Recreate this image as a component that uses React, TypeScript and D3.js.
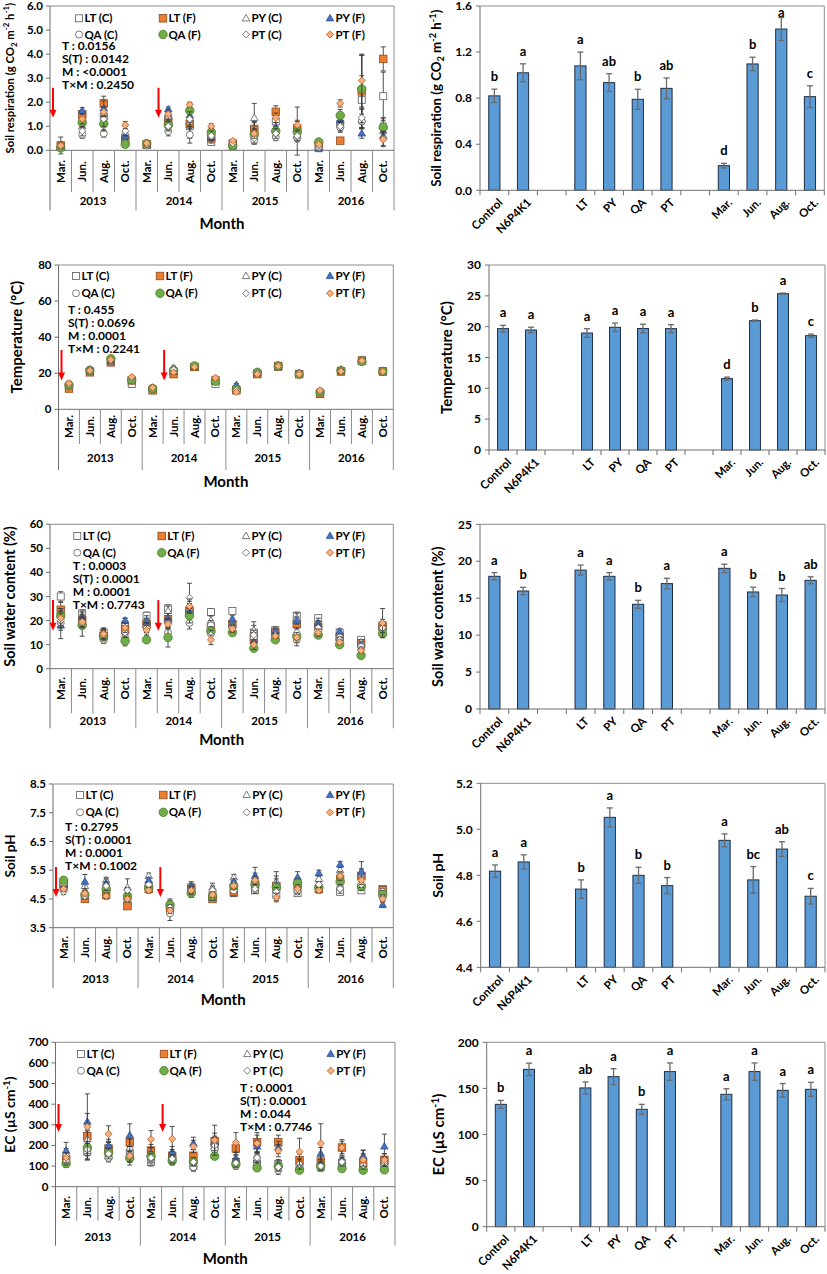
import React from 'react';
import * as d3 from 'd3';

// ---------------- categories ----------------
const monthNames = ['Mar.', 'Jun.', 'Aug.', 'Oct.'];
const years = ['2013', '2014', '2015', '2016'];
const seriesNames = ['LT (C)', 'LT (F)', 'PY (C)', 'PY (F)', 'QA (C)', 'QA (F)', 'PT (C)', 'PT (F)'];
const barSlots = ['Control', 'N6P4K1', '_g1', 'LT', 'PY', 'QA', 'PT', '_g2', 'Mar.', 'Jun.', 'Aug.', 'Oct.'];
const barCats = ['Control', 'N6P4K1', 'LT', 'PY', 'QA', 'PT', 'Mar.', 'Jun.', 'Aug.', 'Oct.'];

// ---------------- soil respiration (monthly, 16 months) ----------------
const srLTC = [0.15, 1.4, 1.4, 0.4, 0.22, 1.3, 1.0, 0.35, 0.25, 0.9, 1.2, 0.8, 0.15, 1.1, 2.1, 2.25];
const srLTCe = [0.1, 0.2, 0.3, 0.1, 0.05, 0.2, 0.3, 0.1, 0.05, 0.3, 0.3, 1.0, 0.05, 0.2, 1.0, 1.0];
const srLTF = [0.2, 1.5, 1.95, 0.45, 0.25, 1.2, 1.1, 0.5, 0.28, 0.85, 1.6, 0.9, 0.2, 0.4, 2.45, 3.8];
const srLTFe = [0.15, 0.15, 0.3, 0.15, 0.05, 0.2, 0.6, 0.2, 0.05, 0.3, 0.25, 0.3, 0.05, 0.05, 1.5, 0.5];
const srPYC = [0.2, 1.0, 1.5, 0.75, 0.22, 1.4, 1.2, 0.6, 0.22, 1.35, 0.8, 0.6, 0.12, 1.2, 1.3, 0.8];
const srPYCe = [0.35, 0.2, 0.3, 0.3, 0.05, 0.2, 0.3, 0.2, 0.05, 0.6, 0.2, 0.2, 0.05, 0.2, 0.4, 0.3];
const srPYF = [0.15, 1.65, 1.75, 0.6, 0.2, 1.7, 1.45, 0.55, 0.15, 0.6, 0.95, 0.65, 0.05, 1.25, 0.7, 0.6];
const srPYFe = [0.05, 0.12, 0.3, 0.15, 0.05, 0.1, 0.3, 0.1, 0.05, 0.2, 0.2, 0.2, 0.03, 0.2, 0.2, 0.2];
const srQAC = [0.12, 0.65, 0.7, 0.3, 0.2, 0.8, 0.65, 0.6, 0.18, 0.4, 0.55, 0.5, 0.15, 0.95, 1.2, 1.05];
const srQACe = [0.05, 0.15, 0.15, 0.1, 0.05, 0.2, 0.35, 0.15, 0.05, 0.15, 0.15, 0.15, 0.05, 0.2, 0.3, 0.3];
const srQAF = [0.1, 1.15, 1.1, 0.25, 0.28, 1.05, 1.65, 0.75, 0.2, 0.65, 0.8, 0.78, 0.35, 1.45, 2.55, 0.95];
const srQAFe = [0.05, 0.2, 0.3, 0.05, 0.05, 0.2, 0.3, 0.2, 0.05, 0.2, 0.2, 0.3, 0.05, 0.25, 1.4, 0.4];
const srPTC = [0.15, 0.8, 1.3, 0.8, 0.25, 1.0, 1.3, 0.6, 0.3, 0.5, 0.7, 0.6, 0.2, 1.0, 1.35, 0.5];
const srPTCe = [0.1, 0.2, 0.3, 0.2, 0.05, 0.2, 0.3, 0.2, 0.05, 0.2, 0.2, 0.2, 0.05, 0.2, 0.4, 0.3];
const srPTF = [0.2, 1.3, 1.6, 1.05, 0.3, 1.5, 1.9, 1.0, 0.4, 0.7, 1.35, 1.05, 0.25, 1.95, 2.9, 0.45];
const srPTFe = [0.1, 0.2, 0.2, 0.15, 0.05, 0.2, 0.1, 0.1, 0.05, 0.2, 0.2, 0.2, 0.05, 0.15, 1.1, 0.3];
const srStats = ['T : 0.0156', 'S(T) : 0.0142', 'M : <0.0001', 'T×M : 0.2450'];

// ---------------- temperature ----------------
const tpLTC = [12.5, 21, 27, 14, 11, 21, 23.5, 14, 11, 20, 23.5, 19.5, 9, 21, 27, 21];
const tpLTF = [11.5, 20.5, 26, 16, 10.5, 19.5, 23.5, 16, 10.5, 19.5, 24, 19.5, 8.5, 21, 27, 21];
const tpPYC = [13, 22, 27.5, 16.5, 11.5, 23, 24, 16.5, 12, 20.5, 24.5, 20, 10, 22, 27.5, 21];
const tpPYF = [13.5, 21, 26.5, 17, 12, 21, 23.5, 16, 13.5, 20, 23.5, 19.5, 9.5, 21.5, 26.5, 21];
const tpQAC = [13, 22, 27.5, 16, 11.5, 22, 24, 16, 11, 20, 24, 19.5, 9.5, 21.5, 27, 21];
const tpQAF = [13.5, 21.5, 28, 16.5, 11.5, 21.5, 24, 15.5, 11, 20.5, 24, 19.5, 9.5, 21.5, 26.5, 21];
const tpPTC = [14, 22, 27, 17.5, 12, 22, 23.5, 17, 10.5, 20, 24, 20, 10, 21.5, 27, 21];
const tpPTF = [14.5, 21.5, 27.5, 18, 12, 20.5, 23.5, 17.5, 9.5, 19.5, 24, 19.5, 10.5, 21, 27, 21];
const tpErr = [0.8, 0.8, 0.8, 0.8, 0.6, 1, 0.6, 0.8, 0.8, 0.6, 0.6, 0.6, 0.6, 0.8, 0.6, 0.6];
const tpStats = ['T : 0.455', 'S(T) : 0.0696', 'M : 0.0001', 'T×M : 0.2241'];

// ---------------- soil water content ----------------
const swLTC = [30, 23, 15, 18, 22, 25, 23, 23.5, 24, 15, 16, 22, 21, 15, 12, 18];
const swLTCe = [2, 1.5, 1.5, 2, 1.5, 1.5, 2, 1.5, 1, 4.5, 1.5, 1.5, 1, 1, 1, 1.5];
const swLTF = [24.5, 20, 13.5, 16, 18.5, 20.5, 24, 17, 18.5, 12.5, 15, 18.5, 17.5, 13, 10.5, 17.5];
const swLTFe = [3, 2, 1.5, 2, 2, 3, 3, 2, 2, 2, 1.5, 2, 2, 1.5, 1.5, 2];
const swPYC = [22, 22, 15, 19, 20, 24, 25, 20, 19, 16, 16, 21, 19, 14, 11, 18.5];
const swPYCe = [3, 2, 2, 2, 2, 2, 3, 2, 2, 2, 1, 2, 2, 1, 1, 2];
const swPYF = [18, 21.5, 14, 20, 19.5, 21, 24, 17, 20.5, 11.5, 15.5, 20, 18.5, 15.5, 10, 17];
const swPYFe = [5.5, 2, 2, 1, 1.5, 2, 3, 2, 1.5, 2, 1, 1.5, 1.5, 1, 1, 2];
const swQAC = [19, 19, 12, 13, 17, 15, 19, 18, 17, 13, 13, 12, 16, 12, 9, 16];
const swQACe = [3, 2, 1.5, 2, 2, 2, 2.5, 2, 1.5, 2, 1, 2.5, 1.5, 1, 1, 2];
const swQAF = [22, 18, 13.5, 11.5, 12, 13, 22, 15.5, 15, 8.5, 12, 13.5, 14, 10, 5.5, 14.5];
const swQAFe = [3, 4.5, 2, 2, 1, 4, 3, 2, 1, 1, 1, 1.5, 1, 1, 1, 1.5];
const swPTC = [20, 19, 14, 15, 17, 19, 29.5, 14, 17, 14, 14, 15, 17, 12, 8, 17];
const swPTCe = [3, 2, 2, 2, 2, 2, 6, 2, 1.5, 2, 1, 2, 1.5, 1, 1, 2];
const swPTF = [21, 19.5, 14.5, 17, 16, 18.5, 26, 12, 16.5, 10, 13.5, 13, 15, 11, 7.5, 19];
const swPTFe = [3, 2, 2, 2, 2, 2, 3, 2, 1.5, 2, 1, 2, 1.5, 1, 1, 6];
const swStats = ['T : 0.0003', 'S(T) : 0.0001', 'M : 0.0001', 'T×M : 0.7743'];

// ---------------- soil pH ----------------
const phLTC = [4.9, 4.6, 4.75, 4.4, 4.95, 4.1, 4.9, 4.6, 4.7, 4.8, 4.65, 4.7, 4.85, 4.75, 4.8, 4.85];
const phLTCe = [0.1, 0.1, 0.1, 0.15, 0.1, 0.15, 0.1, 0.1, 0.1, 0.1, 0.15, 0.1, 0.1, 0.1, 0.1, 0.1];
const phLTF = [5.0, 4.5, 4.65, 4.25, 4.85, 4.2, 4.85, 4.5, 4.75, 5.0, 4.95, 5.0, 4.85, 5.2, 5.3, 4.8];
const phLTFe = [0.15, 0.1, 0.15, 0.1, 0.1, 0.1, 0.15, 0.1, 0.15, 0.2, 0.5, 0.15, 0.1, 0.2, 0.2, 0.1];
const phPYC = [5.0, 4.95, 5.15, 4.9, 5.3, 4.3, 4.95, 4.9, 5.25, 5.2, 5.1, 5.1, 5.2, 5.5, 5.35, 4.7];
const phPYCe = [0.1, 0.15, 0.1, 0.3, 0.1, 0.15, 0.15, 0.15, 0.1, 0.2, 0.2, 0.15, 0.1, 0.15, 0.2, 0.1];
const phPYF = [5.0, 5.1, 5.05, 4.6, 5.15, 4.3, 4.9, 4.55, 5.1, 5.3, 5.0, 5.25, 5.4, 5.7, 5.45, 4.3];
const phPYFe = [0.1, 0.25, 0.15, 0.15, 0.1, 0.2, 0.15, 0.1, 0.1, 0.3, 0.2, 0.2, 0.1, 0.1, 0.35, 0.1];
const phQAC = [5.05, 4.6, 4.8, 4.5, 4.85, 4.0, 4.8, 4.75, 4.8, 4.9, 4.8, 4.85, 4.95, 4.9, 4.9, 4.75];
const phQACe = [0.1, 0.1, 0.1, 0.1, 0.1, 0.25, 0.1, 0.1, 0.1, 0.15, 0.1, 0.1, 0.1, 0.1, 0.1, 0.1];
const phQAF = [5.15, 4.65, 4.85, 4.6, 4.9, 4.3, 4.7, 4.6, 4.95, 5.0, 4.9, 5.05, 4.9, 5.1, 4.95, 4.65];
const phQAFe = [0.1, 0.1, 0.15, 0.1, 0.1, 0.1, 0.15, 0.15, 0.1, 0.15, 0.15, 0.15, 0.1, 0.15, 0.15, 0.15];
const phPTC = [4.75, 4.6, 4.95, 4.8, 5.0, 4.2, 4.8, 4.8, 5.0, 4.85, 4.75, 4.75, 5.0, 4.85, 5.0, 4.55];
const phPTCe = [0.1, 0.1, 0.15, 0.1, 0.1, 0.1, 0.1, 0.15, 0.1, 0.15, 0.15, 0.1, 0.1, 0.15, 0.1, 0.1];
const phPTF = [4.85, 4.7, 4.6, 4.5, 4.8, 4.1, 4.8, 4.65, 4.95, 5.15, 4.55, 4.85, 4.8, 5.3, 5.15, 4.5];
const phPTFe = [0.1, 0.1, 0.1, 0.1, 0.1, 0.1, 0.15, 0.1, 0.1, 0.15, 0.15, 0.15, 0.1, 0.15, 0.15, 0.1];
const phStats = ['T : 0.2795', 'S(T) : 0.0001', 'M : 0.0001', 'T×M : 0.1002'];

// ---------------- EC ----------------
const ecLTC = [130, 170, 150, 160, 120, 130, 100, 195, 120, 110, 110, 95, 95, 115, 95, 110];
const ecLTCe = [20, 40, 20, 30, 20, 20, 20, 30, 20, 20, 20, 20, 20, 20, 20, 20];
const ecLTF = [135, 245, 185, 215, 175, 150, 150, 220, 185, 215, 215, 128, 122, 190, 115, 130];
const ecLTFe = [25, 50, 30, 30, 30, 30, 30, 40, 30, 47, 35, 30, 30, 38, 30, 30];
const ecPYC = [160, 230, 190, 190, 150, 140, 110, 210, 125, 130, 110, 95, 110, 125, 150, 120];
const ecPYCe = [25, 40, 30, 40, 20, 25, 20, 30, 25, 25, 20, 20, 20, 20, 25, 25];
const ecPYF = [175, 315, 200, 250, 160, 165, 210, 215, 135, 195, 190, 100, 160, 120, 145, 195];
const ecPYFe = [40, 40, 30, 55, 30, 30, 30, 30, 30, 30, 30, 30, 30, 20, 33, 60];
const ecQAC = [110, 165, 140, 150, 130, 125, 95, 180, 100, 140, 80, 85, 90, 100, 85, 100];
const ecQACe = [15, 30, 20, 20, 20, 20, 20, 20, 15, 20, 20, 15, 15, 15, 15, 15];
const ecQAF = [112, 190, 165, 138, 148, 127, 122, 148, 110, 92, 100, 80, 100, 88, 80, 82];
const ecQAFe = [15, 30, 20, 20, 20, 20, 20, 15, 15, 15, 20, 15, 15, 15, 15, 15];
const ecPTC = [125, 180, 160, 145, 140, 135, 120, 200, 115, 140, 95, 110, 100, 120, 105, 120];
const ecPTCe = [20, 30, 25, 25, 20, 20, 20, 25, 20, 25, 20, 25, 20, 20, 20, 20];
const ecPTF = [140, 290, 255, 150, 230, 232, 195, 225, 215, 210, 175, 170, 210, 190, 130, 130];
const ecPTFe = [25, 160, 40, 45, 42, 60, 30, 73, 47, 40, 30, 65, 95, 30, 30, 30];
const ecStats = ['T : 0.0001', 'S(T) : 0.0001', 'M : 0.044', 'T×M : 0.7746'];

// ---------------- bar charts (means) ----------------
const srBar = [0.82, 1.02, 1.08, 0.935, 0.79, 0.885, 0.214, 1.097, 1.40, 0.813];
const srBarErr = [0.058, 0.078, 0.12, 0.077, 0.087, 0.09, 0.02, 0.058, 0.1, 0.094];
const srBarLetters = ['b', 'a', 'a', 'ab', 'b', 'ab', 'd', 'b', 'a', 'c'];
const tpBar = [19.68, 19.46, 18.97, 19.9, 19.7, 19.68, 11.57, 20.97, 25.35, 18.54];
const tpBarErr = [0.54, 0.45, 0.7, 0.68, 0.7, 0.65, 0.25, 0.1, 0.1, 0.25];
const tpBarLetters = ['a', 'a', 'a', 'a', 'a', 'a', 'd', 'b', 'a', 'c'];
const swBar = [17.96, 15.97, 18.8, 17.96, 14.17, 16.97, 19.04, 15.84, 15.43, 17.42];
const swBarErr = [0.5, 0.5, 0.68, 0.5, 0.54, 0.72, 0.56, 0.65, 0.88, 0.47];
const swBarLetters = ['a', 'b', 'a', 'a', 'b', 'a', 'a', 'b', 'b', 'ab'];
const phBar = [4.818, 4.858, 4.74, 5.052, 4.80, 4.755, 4.952, 4.78, 4.914, 4.709];
const phBarErr = [0.027, 0.031, 0.04, 0.041, 0.035, 0.035, 0.028, 0.058, 0.032, 0.034];
const phBarLetters = ['a', 'a', 'b', 'a', 'b', 'b', 'a', 'bc', 'ab', 'c'];
const ecBar = [132.7, 170.7, 150.5, 162.7, 127.3, 168.2, 143.6, 168.2, 147.9, 149];
const ecBarErr = [4.3, 6.7, 6.5, 8.7, 5.4, 9.4, 6, 9.4, 7.4, 7.6];
const ecBarLetters = ['b', 'a', 'ab', 'a', 'b', 'a', 'a', 'a', 'a', 'a'];

// ---------------- styles ----------------
const FONT = "Lato, 'Open Sans', Arial, sans-serif";
const FRAME = '#8c8c8c';
const AXIS = '#6e6e6e';
const MARKS = [
  { shape: 'square', fill: '#ffffff', stroke: '#5a5a5a', size: 7 },
  { shape: 'square', fill: '#ED7D31', stroke: '#8a4a20', size: 7.5 },
  { shape: 'triangle', fill: '#ffffff', stroke: '#5a5a5a', size: 7.5 },
  { shape: 'triangle', fill: '#4472C4', stroke: '#2f528f', size: 7.5 },
  { shape: 'circle', fill: '#ffffff', stroke: '#5a5a5a', size: 7 },
  { shape: 'circle', fill: '#70AD47', stroke: '#4a7a2c', size: 8.5 },
  { shape: 'diamond', fill: '#ffffff', stroke: '#5a5a5a', size: 6.5 },
  { shape: 'diamond', fill: '#F4B183', stroke: '#c55a11', size: 6.5 },
];

function Marker({ m, x, y }: { m: any; x: number; y: number }) {
  const s = m.size;
  if (m.shape === 'square')
    return <rect x={x - s / 2} y={y - s / 2} width={s} height={s} fill={m.fill} stroke={m.stroke} strokeWidth={0.8} />;
  if (m.shape === 'circle')
    return <circle cx={x} cy={y} r={s / 2} fill={m.fill} stroke={m.stroke} strokeWidth={0.8} />;
  if (m.shape === 'triangle') {
    const h = s * 0.87;
    return (
      <polygon
        points={`${x},${y - h * 0.6} ${x + s / 2},${y + h * 0.4} ${x - s / 2},${y + h * 0.4}`}
        fill={m.fill}
        stroke={m.stroke}
        strokeWidth={0.8}
      />
    );
  }
  const r = s / 2 + 0.3;
  return (
    <polygon
      points={`${x},${y - r} ${x + r},${y} ${x},${y + r} ${x - r},${y}`}
      fill={m.fill}
      stroke={m.stroke}
      strokeWidth={0.8}
    />
  );
}

const srTitle = (fs: number) => (
  <>
    Soil respiration (g CO
    <tspan dy={3} fontSize={fs * 0.7}>2</tspan>
    <tspan dy={-3}> m</tspan>
    <tspan dy={-5} fontSize={fs * 0.7}>-2</tspan>
    <tspan dy={5}> h</tspan>
    <tspan dy={-5} fontSize={fs * 0.7}>-1</tspan>
    <tspan dy={5}>)</tspan>
  </>
);
const ecTitle = (fs: number) => (
  <>
    EC (µS cm
    <tspan dy={-5} fontSize={fs * 0.7}>-1</tspan>
    <tspan dy={5}>)</tspan>
  </>
);

const LEFT = [
  {
    L: 50, R: 394, T: 6, B: 150.3, monthB: 192, yearB: 210.5, monthLabelY: 171.5, yearLabelY: 201, monthTitleY: 223.5,
    titleX: 9.5, titleFs: 11.3, title: srTitle, domain: [0, 6], step: 1, fmt: '.1f',
    legX: [79, 163, 246, 330], legY: [18.3, 34.5], statsX: 62, statsY: 46, stats: srStats, arrow: [2.6, 1.35],
    vals: [srLTC, srLTF, srPYC, srPYF, srQAC, srQAF, srPTC, srPTF],
    errs: [srLTCe, srLTFe, srPYCe, srPYFe, srQACe, srQAFe, srPTCe, srPTFe],
  },
  {
    L: 58.5, R: 393.3, T: 265, B: 409.3, monthB: 444, yearB: 470, monthLabelY: 426.5, yearLabelY: 458, monthTitleY: 481.7,
    titleX: 16.5, titleFs: 15, title: () => 'Temperature (°C)', domain: [0, 80], step: 20, fmt: 'd',
    legX: [76, 160, 246, 330], legY: [276, 293.3], statsX: 68, statsY: 310, stats: tpStats, arrow: [32.9, 15.9],
    vals: [tpLTC, tpLTF, tpPYC, tpPYF, tpQAC, tpQAF, tpPTC, tpPTF],
    errs: [tpErr, tpErr, tpErr, tpErr, tpErr, tpErr, tpErr, tpErr],
  },
  {
    L: 50, R: 393.3, T: 524.3, B: 668.7, monthB: 713.3, yearB: 728.3, monthLabelY: 688.5, yearLabelY: 721, monthTitleY: 740,
    titleX: 10, titleFs: 14.5, title: () => 'Soil water content (%)', domain: [0, 60], step: 10, fmt: 'd',
    legX: [77.3, 161.7, 246, 330], legY: [536, 552.7], statsX: 72.7, statsY: 565.3, stats: swStats, arrow: [28.5, 15.8],
    vals: [swLTC, swLTF, swPYC, swPYF, swQAC, swQAF, swPTC, swPTF],
    errs: [swLTCe, swLTFe, swPYCe, swPYFe, swQACe, swQAFe, swPTCe, swPTFe],
  },
  {
    L: 53, R: 393.3, T: 784, B: 927.7, monthB: 962.3, yearB: 988.3, monthLabelY: 947.5, yearLabelY: 978.5, monthTitleY: 1000,
    titleX: 10, titleFs: 13.5, title: () => 'Soil pH', domain: [3.5, 8.5], step: 1, fmt: '.1f',
    legX: [80, 163.3, 246.7, 330], legY: [795, 812.3], statsX: 65, statsY: 826.7, stats: phStats, arrow: [5.61, 4.57],
    vals: [phLTC, phLTF, phPYC, phPYF, phQAC, phQAF, phPTC, phPTF],
    errs: [phLTCe, phLTFe, phPYCe, phPYFe, phQACe, phQAFe, phPTCe, phPTFe],
  },
  {
    L: 55.5, R: 395, T: 1042.3, B: 1186.7, monthB: 1220.7, yearB: 1245.7, monthLabelY: 1207.5, yearLabelY: 1237, monthTitleY: 1258.3,
    titleX: 10, titleFs: 14, title: ecTitle, domain: [0, 700], step: 100, fmt: 'd',
    legX: [81, 164, 247.3, 330.7], legY: [1054, 1070.7], statsX: 240, statsY: 1087.3, stats: ecStats, arrow: [401, 265],
    vals: [ecLTC, ecLTF, ecPYC, ecPYF, ecQAC, ecQAF, ecPTC, ecPTF],
    errs: [ecLTCe, ecLTFe, ecPYCe, ecPYFe, ecQACe, ecQAFe, ecPTCe, ecPTFe],
  },
];

const RIGHT = [
  { L: 480, R: 824.3, T: 6, B: 190.3, domain: [0, 1.6], step: 0.4, fmt: '.1f', titleX: 436.7, titleFs: 13.3, title: srTitle,
    vals: srBar, errs: srBarErr, letters: srBarLetters },
  { L: 489, R: 825, T: 265, B: 450, domain: [0, 30], step: 5, fmt: 'd', titleX: 446.7, titleFs: 15, title: () => 'Temperature (°C)',
    vals: tpBar, errs: tpBarErr, letters: tpBarLetters },
  { L: 480, R: 825, T: 524.3, B: 709, domain: [0, 25], step: 5, fmt: 'd', titleX: 438, titleFs: 14.5, title: () => 'Soil water content (%)',
    vals: swBar, errs: swBarErr, letters: swBarLetters },
  { L: 480.7, R: 825, T: 783.3, B: 967.3, domain: [4.4, 5.2], step: 0.2, fmt: '.1f', titleX: 438, titleFs: 14, title: () => 'Soil pH',
    vals: phBar, errs: phBarErr, letters: phBarLetters },
  { L: 486.7, R: 825, T: 1042.3, B: 1226.7, domain: [0, 200], step: 50, fmt: 'd', titleX: 438.3, titleFs: 15, title: ecTitle,
    vals: ecBar, errs: ecBarErr, letters: ecBarLetters },
];

function LeftPanel({ p }: { p: any }) {
  const x = d3.scaleBand<number>().domain(d3.range(16)).range([p.L, p.R]);
  const y = d3.scaleLinear().domain(p.domain).range([p.B, p.T]);
  const ticks = d3.range(p.domain[0], p.domain[1] + p.step / 2, p.step);
  const fmt = d3.format(p.fmt);
  const bw = x.bandwidth();
  const arrowXs = [(x(0) as number) + 3, (x(5) as number) + 1];
  return (
    <g fontFamily={FONT} fontWeight="bold">
      <line x1={p.L} y1={p.T} x2={p.R} y2={p.T} stroke={FRAME} />
      <line x1={p.R} y1={p.T} x2={p.R} y2={p.yearB} stroke={FRAME} />
      <line x1={p.L} y1={p.T} x2={p.L} y2={p.yearB} stroke={AXIS} />
      <line x1={p.L} y1={p.B} x2={p.R} y2={p.B} stroke={AXIS} />
      {ticks.map((t: number) => (
        <g key={t}>
          <line x1={p.L - 4} x2={p.L} y1={y(t)} y2={y(t)} stroke={AXIS} />
          <text x={p.L - 7} y={y(t)} dy="0.35em" textAnchor="end" fontSize={11.5}>{fmt(t)}</text>
        </g>
      ))}
      {d3.range(1, 16).map((i: number) => (
        <line key={i} x1={p.L + i * bw} x2={p.L + i * bw} y1={p.B} y2={i % 4 === 0 ? p.yearB : p.monthB} stroke={FRAME} />
      ))}
      {d3.range(16).map((i: number) => (
        <text key={i} transform={`translate(${(x(i) as number) + bw / 2 + 4},${p.monthLabelY}) rotate(-90)`} textAnchor="middle" fontSize={11.5}>
          {monthNames[i % 4]}
        </text>
      ))}
      {years.map((yr, k) => (
        <text key={yr} x={p.L + (k * 4 + 2) * bw} y={p.yearLabelY} dy="0.35em" textAnchor="middle" fontSize={11.5}>{yr}</text>
      ))}
      <text x={(p.L + p.R) / 2} y={p.monthTitleY} dy="0.35em" textAnchor="middle" fontSize={15}>Month</text>
      <text transform={`translate(${p.titleX + p.titleFs * 0.36},${(p.T + p.B) / 2}) rotate(-90)`} textAnchor="middle" fontSize={p.titleFs}>
        {p.title(p.titleFs)}
      </text>
      {seriesNames.map((nm, k) => {
        const lx = p.legX[k % 4];
        const ly = p.legY[Math.floor(k / 4)];
        return (
          <g key={nm}>
            <Marker m={MARKS[k]} x={lx} y={ly} />
            <text x={lx + 5.5} y={ly} dy="0.35em" fontSize={11.5}>{nm}</text>
          </g>
        );
      })}
      {p.stats.map((s: string, k: number) => (
        <text key={k} x={p.statsX} y={p.statsY + k * 13} dy="0.35em" fontSize={12}>{s}</text>
      ))}
      {arrowXs.map((ax, k) => (
        <g key={k}>
          <line x1={ax} x2={ax} y1={y(p.arrow[0])} y2={y(p.arrow[1]) - 7} stroke="#FF0000" strokeWidth={2} />
          <polygon points={`${ax - 3.5},${y(p.arrow[1]) - 8} ${ax + 3.5},${y(p.arrow[1]) - 8} ${ax},${y(p.arrow[1])}`} fill="#FF0000" />
        </g>
      ))}
      {p.vals.map((vals: number[], s: number) => (
        <g key={s}>
          {vals.map((v: number, i: number) => {
            const cx = (x(i) as number) + bw / 2;
            const e = p.errs[s][i];
            return (
              <g key={i}>
                <line x1={cx} x2={cx} y1={y(v - e)} y2={y(v + e)} stroke="#3a3a3a" strokeWidth={0.9} />
                <line x1={cx - 2.5} x2={cx + 2.5} y1={y(v - e)} y2={y(v - e)} stroke="#3a3a3a" strokeWidth={0.9} />
                <line x1={cx - 2.5} x2={cx + 2.5} y1={y(v + e)} y2={y(v + e)} stroke="#3a3a3a" strokeWidth={0.9} />
                <Marker m={MARKS[s]} x={cx} y={y(v)} />
              </g>
            );
          })}
        </g>
      ))}
    </g>
  );
}

function RightPanel({ p }: { p: any }) {
  const x = d3.scaleBand<string>().domain(barSlots).range([p.L, p.R]);
  const y = d3.scaleLinear().domain(p.domain).range([p.B, p.T]);
  const ticks = d3.range(p.domain[0], p.domain[1] + p.step / 2, p.step);
  const fmt = d3.format(p.fmt);
  const step = x.bandwidth();
  const bw = step * 0.39;
  return (
    <g fontFamily={FONT} fontWeight="bold">
      <line x1={p.L} y1={p.T} x2={p.R} y2={p.T} stroke={FRAME} />
      <line x1={p.R} y1={p.T} x2={p.R} y2={p.B} stroke={FRAME} />
      {ticks.map((t: number) => (
        <g key={t}>
          <line x1={p.L - 4} x2={p.L} y1={y(t)} y2={y(t)} stroke={AXIS} />
          <text x={p.L - 8} y={y(t)} dy="0.35em" textAnchor="end" fontSize={12}>{fmt(t)}</text>
        </g>
      ))}
      {d3.range(13).map((i: number) => (
        <line key={i} x1={p.L + i * step} x2={p.L + i * step} y1={p.B} y2={p.B + 5} stroke={AXIS} />
      ))}
      <text transform={`translate(${p.titleX + p.titleFs * 0.36},${(p.T + p.B) / 2}) rotate(-90)`} textAnchor="middle" fontSize={p.titleFs}>
        {p.title(p.titleFs)}
      </text>
      {barCats.map((c, i) => {
        const cx = (x(c) as number) + step / 2;
        const v = p.vals[i];
        const e = p.errs[i];
        const ly = Math.max(y(v + e) - 8, p.T + 10.5);
        return (
          <g key={c}>
            <rect x={cx - bw / 2} y={y(v)} width={bw} height={p.B - y(v)} fill="#5B9BD5" stroke="#1e2d44" strokeWidth={1} />
            <line x1={cx} x2={cx} y1={y(v - e)} y2={y(v + e)} stroke="#6a6a6a" strokeWidth={1.3} />
            <line x1={cx - 3} x2={cx + 3} y1={y(v - e)} y2={y(v - e)} stroke="#6a6a6a" strokeWidth={1.3} />
            <line x1={cx - 3} x2={cx + 3} y1={y(v + e)} y2={y(v + e)} stroke="#6a6a6a" strokeWidth={1.3} />
            <text x={cx} y={ly} textAnchor="middle" fontSize={13}>{p.letters[i]}</text>
            <text transform={`translate(${cx + 9},${p.B + 13}) rotate(-45)`} textAnchor="end" fontSize={11.5}>{c}</text>
          </g>
        );
      })}
      <line x1={p.L} y1={p.T} x2={p.L} y2={p.B} stroke={AXIS} />
      <line x1={p.L} y1={p.B} x2={p.R} y2={p.B} stroke={AXIS} />
    </g>
  );
}

export default function App() {
  return (
    <svg width={827} height={1274} style={{ position: 'absolute', left: 0, top: 0, background: '#ffffff' }}>
      <rect width={827} height={1274} fill="#ffffff" />
      {LEFT.map((p, k) => (
        <LeftPanel key={k} p={p} />
      ))}
      {RIGHT.map((p, k) => (
        <RightPanel key={k} p={p} />
      ))}
    </svg>
  );
}
